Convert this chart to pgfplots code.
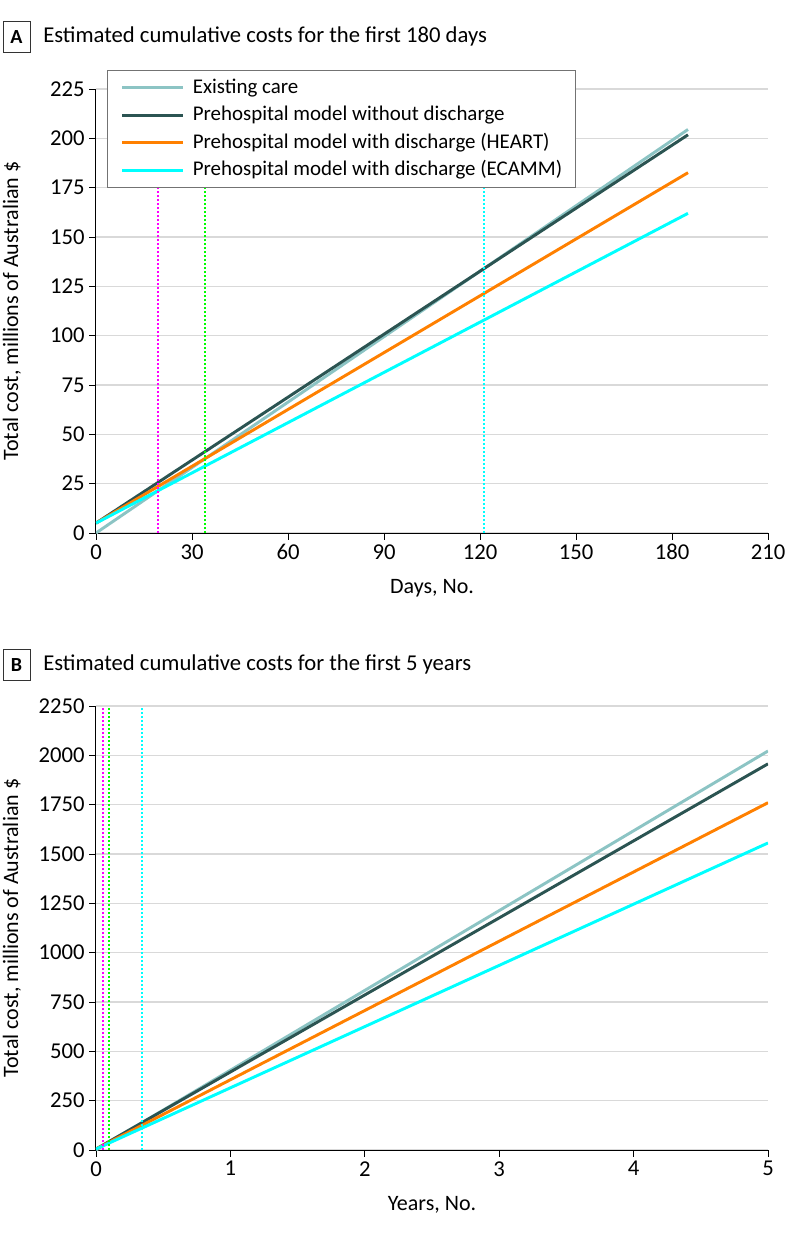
\documentclass[border=0pt]{standalone}
\usepackage{pgfplots}
\pgfplotsset{compat=1.18}
\usepackage{fontspec}
\setmainfont{Carlito}
\definecolor{cExist}{HTML}{8CC4C4}
\definecolor{cWithout}{HTML}{2B5452}
\definecolor{cHeart}{HTML}{FF8000}
\definecolor{cEcamm}{HTML}{00FFFF}
\definecolor{cMag}{HTML}{FF00FF}
\definecolor{cGreen}{HTML}{00FF00}
\definecolor{cGrid}{HTML}{D9D9D9}
\newcommand{\fs}{\fontsize{15.7}{19}\selectfont}
\newcommand{\fst}{\fontsize{17}{20}\selectfont}
\pgfplotsset{
  myaxis/.style={
    scale only axis, width=504pt, height=333pt,
    axis x line*=bottom, axis y line*=left,
    ymin=0, xmin=0,
    tick align=outside, major tick length=5pt,
    tick style={black, line width=0.6pt},
    ymajorgrids, grid style={cGrid, line width=0.9pt},
    axis line style={black, line width=0.75pt},
    /pgf/number format/assume math mode=true,
    /pgf/number format/1000 sep={},
    scaled y ticks=false, scaled x ticks=false,
    tick label style={font=\fst},
    label style={font=\fontsize{16.5}{19}\selectfont},
    ylabel style={at={(axis description cs:-0.125,0.5)}, anchor=center},
    xlabel style={at={(axis description cs:0.5,-0.124)}, anchor=center},
    ylabel={Total cost, millions of Australian \$},
    legend image code/.code={\draw[#1] (0pt,0pt) -- (45.75pt,0pt); \path (51.75pt,0pt);},
  },
  mainline/.style={line width=2.2pt},
  vline/.style={line width=1.5pt, dash pattern=on 1.5pt off 1.5pt},
}
\begin{document}
\begin{tikzpicture}
\path[use as bounding box] (0,0) rectangle (595.5pt,-926.25pt);
% Panel A title
\draw[line width=0.75pt, draw=black!80] (2.25pt,-15.75pt) rectangle (22.5pt,-39pt);
\node[font=\bfseries\fontsize{15}{18}\selectfont, inner sep=0pt] at (12.4pt,-27.4pt) {A};
\node[anchor=west, font=\fst, inner sep=0pt] at (32.25pt,-27.4pt) {Estimated cumulative costs for the first 180 days};
\begin{axis}[myaxis,
  at={(72pt,-399.75pt)}, anchor=south west,
  xmax=210, ymax=225,
  xtick={0,30,...,210}, ytick={0,25,...,225},
  xlabel={Days, No.},
  legend cell align=left,
  legend style={at={(axis description cs:0.0164,1.0428)}, anchor=north west,
    draw=black!55, line width=0.9pt, fill=white,
    inner xsep=10pt, inner ysep=5pt,
    row sep=4.6pt,
    nodes={inner sep=0pt, text height=12pt, text depth=4pt, font=\fs}},
]
\addplot[mainline, cExist] coordinates {(0,0) (185,204.5)};
\addlegendentry{Existing care}
\addplot[mainline, cWithout] coordinates {(0,5) (185,201.8)};
\addlegendentry{Prehospital model without discharge}
\addplot[mainline, cHeart] coordinates {(0,5) (185,182.6)};
\addlegendentry{Prehospital model with discharge (HEART)}
\addplot[mainline, cEcamm] coordinates {(0,5) (185,162.0)};
\addlegendentry{Prehospital model with discharge (ECAMM)}
\addplot[vline, cMag, forget plot] coordinates {(19.4,0) (19.4,225)};
\addplot[vline, cGreen, forget plot] coordinates {(34.2,0) (34.2,225)};
\addplot[vline, cEcamm, forget plot] coordinates {(121.1,0) (121.1,225)};
\end{axis}
% Panel B title
\draw[line width=0.75pt, draw=black!80] (2.25pt,-486.75pt) rectangle (22.5pt,-510pt);
\node[font=\bfseries\fontsize{15}{18}\selectfont, inner sep=0pt] at (12.4pt,-498.4pt) {B};
\node[anchor=west, font=\fst, inner sep=0pt] at (32.25pt,-498.4pt) {Estimated cumulative costs for the first 5 years};
\begin{axis}[myaxis,
  at={(72pt,-862.5pt)}, anchor=south west,
  xmax=5, ymax=2250,
  xtick={0,1,...,5}, ytick={0,250,...,2250},
  xlabel={Years, No.},
]
\addplot[mainline, cExist] coordinates {(0,0) (5,2022)};
\addplot[mainline, cWithout] coordinates {(0,5) (5,1957)};
\addplot[mainline, cHeart] coordinates {(0,5) (5,1760)};
\addplot[mainline, cEcamm] coordinates {(0,5) (5,1556)};
\addplot[vline, cMag] coordinates {(0.052,0) (0.052,2250)};
\addplot[vline, cGreen] coordinates {(0.095,0) (0.095,2250)};
\addplot[vline, cEcamm] coordinates {(0.34,0) (0.34,2250)};
\end{axis}
\end{tikzpicture}
\end{document}
